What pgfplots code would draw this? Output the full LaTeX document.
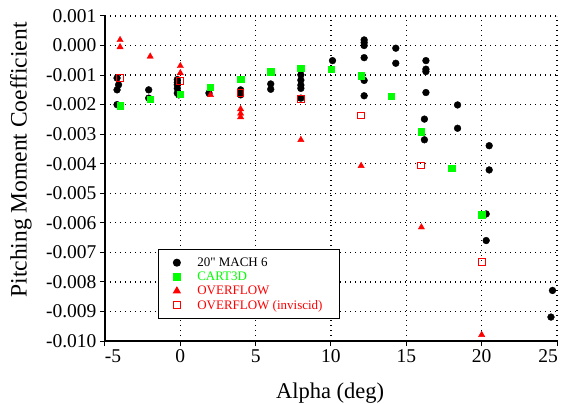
\documentclass[border=0pt]{standalone}
\usepackage{fontspec}
\setmainfont{Liberation Serif}
\newfontfamily\plainfont{Liberation Serif}
\usepackage{pgfplots}
\pgfplotsset{compat=1.18}
\begin{document}
\begin{tikzpicture}
\begin{axis}[
 name=ax,
 scale only axis,
 width=452pt, height=325pt,
 xmin=-5, xmax=25, ymin=-0.010, ymax=0.001,
 axis x line=bottom, axis y line=left,
 axis line style={line width=1.5pt,-},
 xtick={-5,0,5,10,15,20,25},
 xticklabels={{\makebox[0pt]{\kern16pt -5}},0,5,10,15,20,{\makebox[0pt]{\kern-18pt 25}}},
 ytick={-0.010,-0.009,-0.008,-0.007,-0.006,-0.005,-0.004,-0.003,-0.002,-0.001,0,0.001},
 scaled y ticks=false,
 yticklabel style={/pgf/number format/.cd, fixed, precision=3, zerofill, assume math mode=true},
 ticklabel style={font=\fontsize{19.5}{22}\selectfont},
 tick style={black, line width=1pt},
 tick align=outside, major tick length=5pt,
 grid=major,
 major grid style={black, line width=1.2pt, dash pattern=on 1.2pt off 3.8pt},
 xlabel={Alpha (deg)},
 ylabel={Pitching Moment Coefficient},
 xlabel style={at={(axis description cs:0.498,-0.176)}, anchor=base, font=\fontsize{22.5}{26}\selectfont},
 ylabel style={at={(axis description cs:-0.186,0.557)}, anchor=center, font=\fontsize{23.5}{26}\selectfont},
 clip=false,
 legend style={at={(axis description cs:0.117,0.283)}, anchor=north west, draw=black, line width=1.2pt,
   font=\fontsize{13}{15}\selectfont, inner xsep=15pt, inner ysep=6pt, row sep=0pt,
   /tikz/every odd column/.append style={column sep=15pt}},
 legend cell align=left,
]
\addplot[only marks, mark=*, mark size=3.4pt, black] coordinates {
(-4.2,-1.10e-3) (-4.1,-1.33e-3) (-4.2,-1.50e-3) (-4.2,-2.00e-3)
(-2.1,-1.50e-3) (-2.1,-1.78e-3)
(-0.2,-1.15e-3) (-0.2,-1.25e-3) (-0.2,-1.33e-3) (-0.2,-1.45e-3) (-0.2,-1.61e-3) (-0.1,-1.67e-3)
(1.9,-1.61e-3)
(4.0,-1.50e-3) (4.0,-1.67e-3)
(6.0,-1.30e-3) (6.0,-1.48e-3)
(8.0,-0.99e-3) (8.0,-1.17e-3) (8.0,-1.34e-3) (8.0,-1.45e-3) (8.0,-1.78e-3)
(10.1,-0.51e-3)
(12.2,0.19e-3) (12.2,0.10e-3) (12.2,0.0) (12.2,-0.41e-3) (12.2,-1.18e-3) (12.2,-1.70e-3)
(14.3,-0.09e-3) (14.3,-0.60e-3)
(16.3,-0.51e-3) (16.3,-0.80e-3) (16.3,-0.88e-3) (16.3,-1.59e-3) (16.2,-2.49e-3) (16.2,-3.19e-3)
(18.4,-2.01e-3) (18.4,-2.80e-3)
(20.5,-3.39e-3) (20.5,-4.21e-3) (20.3,-5.70e-3) (20.3,-6.60e-3)
(24.7,-8.29e-3) (24.6,-9.19e-3)
};
\addlegendentry{{\plainfont 20" MACH 6}}
\addplot[only marks, mark=square*, mark size=3.2pt, color=green] coordinates {
(-4.0,-2.04e-3) (-2.0,-1.81e-3) (0.0,-1.65e-3) (2.0,-1.42e-3) (4.0,-1.14e-3) (6.0,-0.88e-3)
(8.0,-0.77e-3) (10.0,-0.80e-3) (12.0,-1.02e-3) (14.0,-1.72e-3) (16.0,-2.91e-3) (18.0,-4.15e-3)
(20.0,-5.73e-3)
};
\addlegendentry{\textcolor{green}{CART3D}}
\addplot[only marks, mark=triangle*, mark size=3.6pt, color=red] coordinates {
(-4.0,0.19e-3) (-4.0,-0.05e-3) (-2.0,-0.37e-3) (0,-0.69e-3) (0,-0.93e-3) (2,-1.67e-3)
(4,-2.15e-3) (4,-2.30e-3) (4,-2.42e-3) (8,-3.19e-3) (12,-4.07e-3) (16,-6.15e-3) (20,-9.79e-3)
};
\addlegendentry{\textcolor{red}{OVERFLOW}}
\addplot[only marks, mark=square, mark size=3.4pt, color=red, mark options={line width=1pt}] coordinates {
(-4,-1.10e-3) (0,-1.20e-3) (4,-1.61e-3) (8,-1.81e-3) (12,-2.37e-3) (16,-4.06e-3) (20,-7.33e-3)
};
\addlegendentry{\textcolor{red}{OVERFLOW (inviscid)}}
\end{axis}
\pgfresetboundingbox
\path ([xshift=-105pt,yshift=-63pt]ax.south west) rectangle ([xshift=5pt,yshift=16pt]ax.north east);
\end{tikzpicture}
\end{document}
